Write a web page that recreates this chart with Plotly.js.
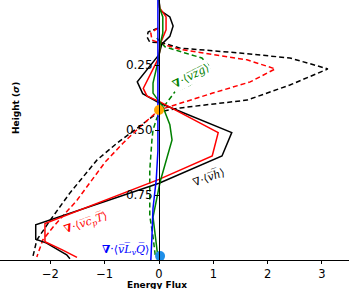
<!DOCTYPE html>
<html>
<head>
<meta charset="utf-8">
<script src="https://cdn.plot.ly/plotly-3.0.1.min.js"></script>
<style>html,body{margin:0;padding:0;background:#fff;}#chart{width:350px;height:289px;}</style>
</head>
<body>
<div id="chart"></div>
<script>
// Energy flux profiles vs height (sigma)
const vhSigma   = [0.0, 0.04, 0.065, 0.10, 0.14, 0.17, 0.21, 0.315, 0.36, 0.395, 0.51, 0.60, 0.705, 0.865, 0.92, 0.935, 0.98, 0.995];
const vhFlux    = [0.0, 0.02, 0.20, 0.26, 0.20, 0.05, 0.0, -0.40, -0.30, 0.0, 1.34, 1.16, 0.0, -2.27, -2.27, -2.07, -1.70, -1.64];

const cpTSigma  = [0.0, 0.03, 0.065, 0.115, 0.17, 0.22, 0.34, 0.37, 0.39, 0.51, 0.60, 0.69, 0.86, 0.93, 0.96, 0.99];
const cpTFlux   = [0.0, 0.01, 0.13, 0.13, 0.02, 0.0, -0.29, -0.22, 0.0, 1.09, 0.98, 0.0, -2.10, -2.10, -1.79, -1.51];

const greenSigma = [0.0, 0.03, 0.065, 0.127, 0.173, 0.22, 0.32, 0.358, 0.41, 0.48, 0.538, 0.615, 0.70, 0.835, 0.91, 0.99];
const greenFlux  = [0.0, 0.01, 0.07, 0.07, 0.02, 0.0, -0.11, -0.11, 0.07, 0.20, 0.24, 0.13, 0.02, -0.11, -0.07, -0.02];

const LvQSigma  = [0.0, 0.38, 0.58, 0.69, 0.80, 0.91, 1.0];
const LvQFlux   = [-0.02, -0.02, -0.02, -0.05, -0.11, -0.13, -0.15];

const vhDashSigma = [0.108, 0.123, 0.142, 0.162, 0.165, 0.185, 0.204, 0.223, 0.265, 0.327, 0.385, 0.415, 0.43, 0.55, 0.615, 0.742, 0.846, 0.923, 0.985];
const vhDashFlux  = [-0.02, -0.20, -0.22, -0.17, 0.07, 0.39, 1.49, 2.41, 3.11, 2.41, 1.62, 0.39, 0.0, -0.77, -1.14, -1.64, -2.00, -2.25, -2.32];

const cpTDashSigma = [0.108, 0.127, 0.154, 0.173, 0.19, 0.23, 0.265, 0.315, 0.358, 0.396, 0.423, 0.488, 0.55, 0.623, 0.77, 0.873, 0.923, 0.988];
const cpTDashFlux  = [-0.02, -0.15, -0.13, 0.11, 0.39, 1.62, 2.14, 1.68, 0.99, 0.39, 0.0, -0.35, -0.66, -0.99, -1.51, -1.95, -2.14, -2.25];

const vzgSigma = [0.146, 0.18, 0.204, 0.223, 0.258, 0.277, 0.327, 0.354, 0.404, 0.454, 0.50, 0.538, 0.654, 0.83, 0.91, 0.98];
const vzgFlux  = [-0.04, 0.11, 0.48, 0.79, 0.94, 0.90, 0.57, 0.29, 0.11, -0.04, -0.11, -0.13, -0.17, -0.17, -0.11, -0.07];

const orangePt = {flux: [0.0], sigma: [0.423]};
const bluePt   = {flux: [0.02], sigma: [0.985]};

const xTicks = [-2, -1, 0, 1, 2, 3];
const yTicks = [0.25, 0.5, 0.75];
const yTickText = ['0.25', '0.50', '0.75'];
const xRange = [-2.928, 3.499];

function line(x, y, color, dash) {
  return {x: x, y: y, type: 'scatter', mode: 'lines', hoverinfo: 'skip',
          line: {color: color, width: 1.5, dash: dash || 'solid'}};
}

const traces = [
  line(vhDashFlux, vhDashSigma, 'black', '5px,3px'),
  line(cpTDashFlux, cpTDashSigma, 'red', '5px,3px'),
  line(vzgFlux, vzgSigma, 'green', '5px,3px'),
  line(vhFlux, vhSigma, 'black'),
  line(cpTFlux, cpTSigma, 'red'),
  line(greenFlux, greenSigma, 'green'),
  line(LvQFlux, LvQSigma, 'blue'),
  {x: orangePt.flux, y: orangePt.sigma, type: 'scatter', mode: 'markers',
   marker: {color: 'orange', size: 10}, hoverinfo: 'skip'},
  {x: bluePt.flux, y: bluePt.sigma, type: 'scatter', mode: 'markers',
   marker: {color: '#1f8fe8', size: 10}, hoverinfo: 'skip'}
];

const yPos = (0 - xRange[0]) / (xRange[1] - xRange[0]);

const layout = {
  width: 350, height: 289,
  margin: {l: 0, r: 1, t: 0, b: 29},
  paper_bgcolor: 'white', plot_bgcolor: 'white',
  showlegend: false,
  font: {family: 'DejaVu Sans', color: 'black', size: 12},
  xaxis: {range: xRange, tickvals: xTicks, showgrid: false, zeroline: false,
          showline: true, linecolor: 'black', linewidth: 1,
          ticks: 'outside', ticklen: 3, tickcolor: 'black', tickfont: {size: 11.5}},
  yaxis: {range: [1, 0], tickvals: yTicks, ticktext: yTickText,
          anchor: 'free', position: yPos, showgrid: false, zeroline: false,
          showline: true, linecolor: 'black', linewidth: 1.5,
          ticks: 'outside', ticklen: 4, tickcolor: 'black', tickfont: {size: 12}},
  annotations: [
    {text: '<b>Energy Flux</b>', xref: 'paper', yref: 'paper', x: 157 / 349, y: (260 - 284.5) / 260,
     xanchor: 'center', yanchor: 'middle', showarrow: false, font: {size: 9}},
    {text: '<b>Height (<i>σ</i>)</b>', xref: 'paper', yref: 'paper', x: 16 / 349, y: 1 - 108 / 260,
     xanchor: 'center', yanchor: 'middle', textangle: -90, showarrow: false, font: {size: 9}},
    {text: '∇·⟨<i>v̅h̅</i>⟩', x: (208 - 159) / 54.3, y: 177 / 260, showarrow: false,
     textangle: -20, font: {family: 'DejaVu Serif', size: 11, color: 'black'}},
    {text: '<b>∇</b>·⟨<i>v̅z̅g̅</i>⟩', x: (190 - 159) / 54.3, y: 76 / 260, showarrow: false,
     textangle: -28, font: {family: 'DejaVu Serif', size: 11, color: 'green'},
     bgcolor: 'white', borderpad: 1},
    {text: '<b>∇</b>·⟨<i>v̅c̅<sub>p</sub>T̅</i>⟩', x: (86 - 159) / 54.3, y: 222 / 260, showarrow: false,
     textangle: -19, font: {family: 'DejaVu Serif', size: 11, color: 'red'}},
    {text: '<b>∇</b>·⟨<i>v̅L̅<sub>v</sub>Q̅</i>⟩', x: (125 - 159) / 54.3, y: 249 / 260, showarrow: false,
     font: {family: 'DejaVu Serif', size: 11, color: 'blue'}}
  ]
};

Plotly.newPlot('chart', traces, layout, {staticPlot: true, displayModeBar: false});
</script>
</body>
</html>
